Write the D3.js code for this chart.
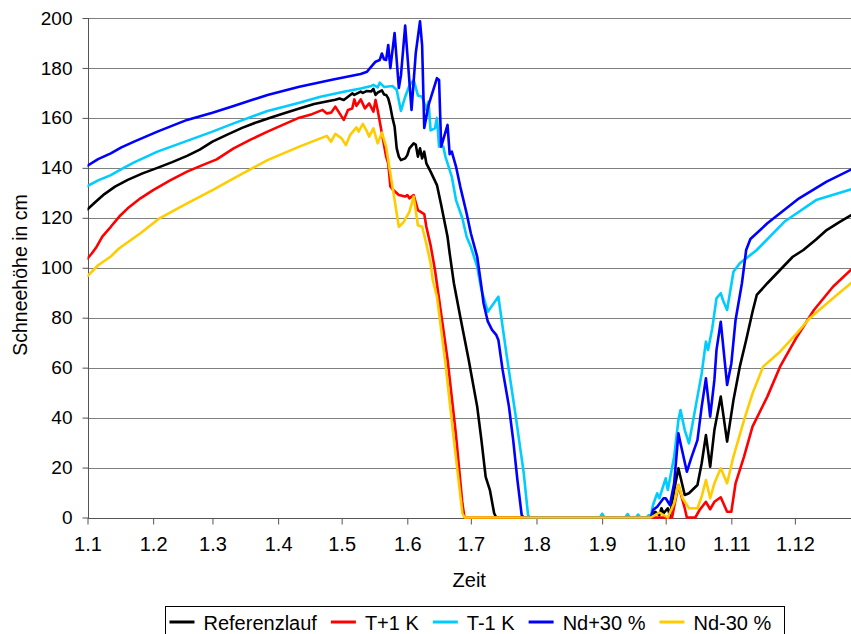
<!DOCTYPE html>
<html>
<head>
<meta charset="utf-8">
<script src="https://cdn.jsdelivr.net/npm/d3@7"></script>
<style>
  html, body { margin: 0; padding: 0; background: #ffffff; }
  svg { display: block; font-family: "Liberation Sans", Arial, Helvetica, sans-serif; }
</style>
</head>
<body>
<svg id="chart" width="851" height="634"></svg>
<script>
// Snow depth (cm) per simulation run; each point is [day offset from 1 January, depth]
const seriesNames  = ["Referenzlauf", "T+1 K", "T-1 K", "Nd+30 %", "Nd-30 %"];
const seriesColors = ["#000000", "#ff0000", "#00ccff", "#0000ff", "#ffcc00"];

const yTicks = [0, 20, 40, 60, 80, 100, 120, 140, 160, 180, 200];
const monthLabels = ["1.1", "1.2", "1.3", "1.4", "1.5", "1.6", "1.7", "1.8", "1.9", "1.10", "1.11", "1.12"];

const referenzlauf = [
  [0,123.4],[4,126.5],[8,129.5],[13,132.5],[19,135.2],[26,137.8],[33,140],[40,142.3],[47,144.8],
  [53,147.3],[59,150.5],[66,153.3],[73,156],[80,158.3],[87,160.3],[94,162.2],[100,163.8],[107,165.6],
  [114,166.8],[117,167.3],[119,167.8],[121,167.2],[123,168.5],[125,169.8],[126,169.2],[129,170.5],
  [130,170],[132,170.8],[134,170.6],[135,171.6],[136,169.2],[137,170.1],[139,171],[140,169.4],
  [141,169.2],[142,167.8],[143,164.5],[144,160],[145,156.5],[146,147.8],[147,144.5],[148,143.1],
  [150,143.8],[151,145.1],[152,147.8],[154,149.8],[155,149.3],[156,144.5],[157,147.8],[158,143.8],
  [159,146.5],[160,141.8],[162,138.5],[165,133.1],[167,125.1],[170,112.4],[171,105.8],[173,93.8],
  [176,80.4],[180,63.1],[181,58.4],[184,44.4],[186,31],[188,16.3],[190,11],[192,1.7],[193,0],
  [266,0],[268,2.3],[270,1],[271,3.7],[272,1.7],[274,3.7],[275,0.6],[277,11],[279,19.7],[282,9],
  [284,9.7],[288,13],[290,21.7],[292,33],[294,20.3],[296,35],[299,48.4],[302,30.4],[305,47],
  [308,60.4],[311,71.1],[314,82.4],[316,89.1],[321,93.8],[327,99.1],[333,104.4],[338,107.1],
  [344,111.3],[349,115.1],[355,118.3],[361,121.3]
];

const tPlus1 = [
  [0,103.7],[2,105.7],[4,108],[7,112.5],[11,116.4],[15,120.5],[19,123.8],[25,127.8],[31,131.1],
  [39,135],[47,138.5],[54,141],[61,143.4],[69,147.8],[77,151.3],[85,154.5],[93,157.5],[100,160.1],
  [106,161.5],[111,163.2],[113,161.8],[115,162.1],[117,164.5],[121,159.2],[123,163.2],[125,163.8],
  [126,167.4],[127,164.8],[129,167.4],[131,163.8],[133,165.8],[135,162.5],[136,167.2],[137,163.2],
  [139,153.8],[141,144.5],[142,141.8],[143,132.5],[144,131.4],[147,129.1],[150,128.5],[151,129.1],
  [152,127.8],[154,129.1],[156,123.1],[159,121.5],[160,116.4],[162,109],[164,99.5],[166,87.5],
  [170,63.3],[174,33],[177,5.7],[178,0],
  [276,0],[279,13],[282,3.7],[283,0],[287,0],[289,3],[292,6.3],[294,3.3],[296,6.3],[299,8.1],
  [302,2.3],[304,2.3],[306,13.7],[310,24.4],[314,36.4],[321,48.4],[327,60.4],[335,72.4],
  [343,83.1],[352,92.4],[361,99.6]
];

const tMinus1 = [
  [0,132.7],[5,135],[11,137.1],[16,139.5],[22,142.2],[33,146.5],[47,150.8],[59,154.5],[69,157.8],
  [85,162.8],[100,166.1],[110,168.5],[121,170.5],[129,171.8],[134,172.8],[135,173.2],[137,172.2],
  [138,174.1],[140,172.4],[144,172.8],[146,171.2],[148,162.8],[150,168.5],[152,173],[154,175.2],
  [156,169],[158,168.5],[160,163.2],[161,166.5],[162,155],[164,155.8],[165,160],[166,148.5],
  [168,148.5],[169,144.5],[172,136.5],[174,127.1],[177,119.8],[179,112.4],[181,108.4],[184,100.4],
  [186,91.1],[189,82.4],[194,88.4],[198,64.4],[202,41.7],[206,17.7],[208,1],[209,0],
  [242,0],[243,1.5],[244,0],[254,0],[255,1.4],[256,0],[259,0],[260,1.2],[261,0],[264,0],[265,1],
  [266,0.5],[267,5],[269,9.7],[270,7.7],[273,15.7],[274,11],[277,24.4],[279,39],[280,43],[282,35],
  [284,29.7],[286,39],[288,48.4],[290,57.7],[292,70.4],[293,67.1],[295,75.8],[297,87.8],[299,89.8],
  [300,87.1],[302,83.1],[305,98.4],[308,101.8],[316,107.1],[329,118.4],[344,127.1],[361,131.5]
];

const ndPlus30 = [
  [0,140.9],[5,143.5],[11,145.8],[16,148.2],[22,150.5],[33,154.5],[47,159.2],[59,162.1],[69,164.8],
  [85,169.2],[100,172.5],[116,175.4],[129,177.6],[132,178.5],[134,180.5],[136,182.5],[138,183.2],
  [139,185.8],[140,183.5],[141,183.2],[142,189.2],[143,179.9],[145,194],[147,172],[148,177],
  [150,197],[153,163.2],[155,186],[157,198.7],[158,189],[159,156],[161,165],[165,175.9],[166,175.2],
  [167,148.5],[170,157.2],[171,145.5],[172,146.5],[174,140.5],[176,132.5],[179,121.8],[181,113.8],
  [184,104.4],[186,92.4],[187,85.8],[189,78.5],[191,75.1],[193,73.1],[194,71.1],[196,59.1],
  [199,44.4],[201,31],[203,15],[205,1],[206,0],
  [266,0],[267,3],[269,4.3],[272,7.7],[273,7.7],[275,5],[277,13.7],[279,33.7],[280,29.7],[283,18.3],
  [285,23.7],[288,31],[290,44.4],[292,55.7],[294,40.4],[296,55.1],[297,67.1],[299,78.4],[302,53.1],
  [304,61.7],[306,79.1],[309,93.8],[311,107.1],[313,111.5],[321,117.8],[336,127.8],[349,134.5],
  [361,139.5]
];

const ndMinus30 = [
  [0,96.7],[5,101],[11,104.5],[15,107.8],[25,113.8],[34,119.8],[47,125.8],[59,131.1],[69,135.8],
  [85,143.1],[100,148.5],[113,152.8],[115,150.5],[117,153.6],[120,151.8],[122,149.1],[124,153.2],
  [127,156.2],[128,154.5],[130,157.6],[132,154.5],[133,152.5],[135,155.8],[137,149.8],[139,154.1],
  [141,148.5],[143,137.8],[145,127.1],[147,116.4],[149,118],[152,122.4],[154,128.5],[156,117],
  [158,116.4],[160,109.5],[162,101.8],[163,95.1],[165,88.4],[169,61.7],[173,31],[177,1.7],[178,0],
  [266,0],[268,1],[270,2],[272,1],[274,0],[277,5.7],[279,13],[281,7.7],[284,3.7],[288,3.7],[290,8.4],
  [292,15],[294,7.7],[296,13.7],[299,19.7],[302,13.7],[305,24.4],[310,39],[314,49.7],[319,60.4],
  [327,66.4],[335,73.8],[341,79.8],[351,87.1],[361,94.2]
];

const seriesData = [referenzlauf, tPlus1, tMinus1, ndPlus30, ndMinus30];

// ---- layout ----
const plot = { left: 87.5, right: 851, top: 18, bottom: 517.5 };
const yearStart = new Date(2001, 0, 1);
const dayToDate = d => d3.timeDay.offset(yearStart, d);

const x = d3.scaleTime()
  .domain([yearStart, new Date(2001, 0, 361, 12)])
  .range([plot.left, plot.right]);
const y = d3.scaleLinear()
  .domain([0, 200])
  .range([plot.bottom, plot.top]);

const svg = d3.select("#chart");

svg.append("defs").append("clipPath").attr("id", "plotClip")
  .append("rect")
  .attr("x", plot.left).attr("y", 0)
  .attr("width", plot.right - plot.left).attr("height", plot.bottom + 2);

// horizontal gridlines
svg.append("g").attr("class", "grid")
  .selectAll("line").data(yTicks.filter(t => t > 0)).join("line")
  .attr("x1", plot.left).attr("x2", plot.right)
  .attr("y1", d => Math.round(y(d)) + 0.5).attr("y2", d => Math.round(y(d)) + 0.5)
  .attr("stroke", "#7f7f7f").attr("stroke-width", 1);

// y axis
const yAxis = svg.append("g")
  .attr("transform", `translate(${Math.round(plot.left) + 0.5},0)`)
  .call(d3.axisLeft(y).tickValues(yTicks).tickSize(6).tickPadding(10).tickFormat(d3.format("d")));
yAxis.select(".domain").attr("stroke", "#555").attr("d", `M0,${plot.top}V${Math.round(plot.bottom) + 0.5}`);
yAxis.selectAll(".tick line").attr("stroke", "#555");
yAxis.selectAll(".tick text").attr("font-size", 19).attr("fill", "#000")
  .attr("font-family", "'Liberation Sans', Arial, sans-serif");

// x axis (first day of each month)
const monthStarts = d3.range(12).map(m => new Date(2001, m, 1));
const xAxis = svg.append("g")
  .attr("transform", `translate(0,${Math.round(plot.bottom) + 0.5})`)
  .call(d3.axisBottom(x).tickValues(monthStarts).tickSize(6).tickPadding(12)
    .tickFormat((d, i) => monthLabels[i]));
xAxis.select(".domain").attr("stroke", "#555").attr("d", `M${plot.left},0H${plot.right}`);
xAxis.selectAll(".tick line").attr("stroke", "#555");
xAxis.selectAll(".tick text").attr("font-size", 20).attr("fill", "#000")
  .attr("font-family", "'Liberation Sans', Arial, sans-serif");

// axis titles
svg.append("text")
  .attr("x", (plot.left + plot.right) / 2).attr("y", 586.5)
  .attr("text-anchor", "middle").attr("font-size", 20).text("Zeit");
svg.append("text")
  .attr("transform", "translate(26.5,275) rotate(-90)")
  .attr("text-anchor", "middle").attr("font-size", 19.5).text("Schneehöhe in cm");

// series lines
const line = d3.line()
  .x(d => x(dayToDate(d[0])))
  .y(d => y(d[1]));

svg.append("g").attr("clip-path", "url(#plotClip)")
  .selectAll("path").data(seriesData).join("path")
  .attr("d", line)
  .attr("fill", "none")
  .attr("stroke", (d, i) => seriesColors[i])
  .attr("stroke-width", 2.6)
  .attr("stroke-linejoin", "round")
  .attr("stroke-linecap", "round");

// legend
const legend = svg.append("g");
legend.append("rect")
  .attr("x", 165.5).attr("y", 606.5).attr("width", 619).attr("height", 40)
  .attr("fill", "#fff").attr("stroke", "#000").attr("stroke-width", 1);
let lx = 169.5;
seriesNames.forEach((name, i) => {
  legend.append("line")
    .attr("x1", lx).attr("x2", lx + 25).attr("y1", 622).attr("y2", 622)
    .attr("stroke", seriesColors[i]).attr("stroke-width", 3);
  const t = legend.append("text")
    .attr("x", lx + 34).attr("y", 629.5).attr("font-size", 20).text(name);
  lx = lx + 34 + t.node().getComputedTextLength() + 14;
});
</script>
</body>
</html>
